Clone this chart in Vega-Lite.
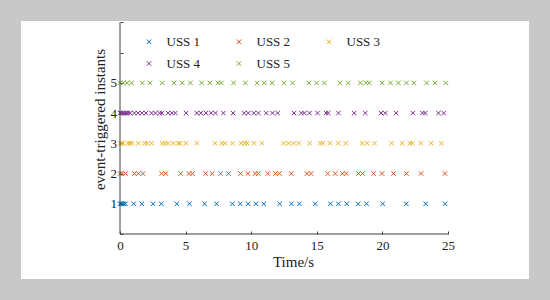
{
  "$schema": "https://vega.github.io/schema/vega-lite/v6.json",
  "width": 508,
  "height": 258,
  "autosize": {"type": "none"},
  "padding": {"left": 21, "top": 21, "right": 21, "bottom": 21},
  "background": "#c8c8c8",
  "config": {
    "view": {"fill": "white", "stroke": null},
    "font": "Liberation Serif",
    "axis": {
      "grid": false,
      "domain": false,
      "labelOverlap": false,
      "tickColor": "#404040",
      "tickWidth": 1,
      "labelFont": "Liberation Serif",
      "labelFontSize": 13,
      "labelColor": "#222222",
      "titleFont": "Liberation Serif",
      "titleFontSize": 15,
      "titleFontWeight": "normal",
      "titleColor": "#222222"
    }
  },
  "datasets": {
    "pts": [
      {"s":"USS 1","y":1,"t":0},{"s":"USS 1","y":1,"t":0.1},{"s":"USS 1","y":1,"t":0.2},{"s":"USS 1","y":1,"t":0.3},{"s":"USS 1","y":1,"t":0.42},
      {"s":"USS 1","y":1,"t":1.04},{"s":"USS 1","y":1,"t":1.66},{"s":"USS 1","y":1,"t":2.52},{"s":"USS 1","y":1,"t":3.15},{"s":"USS 1","y":1,"t":4.33},
      {"s":"USS 1","y":1,"t":5.29},{"s":"USS 1","y":1,"t":6.45},{"s":"USS 1","y":1,"t":7.36},{"s":"USS 1","y":1,"t":8.57},{"s":"USS 1","y":1,"t":9.17},
      {"s":"USS 1","y":1,"t":9.77},{"s":"USS 1","y":1,"t":10.36},{"s":"USS 1","y":1,"t":10.96},{"s":"USS 1","y":1,"t":12.17},{"s":"USS 1","y":1,"t":13.07},
      {"s":"USS 1","y":1,"t":13.67},{"s":"USS 1","y":1,"t":14.88},{"s":"USS 1","y":1,"t":16.04},{"s":"USS 1","y":1,"t":16.65},{"s":"USS 1","y":1,"t":17.28},
      {"s":"USS 1","y":1,"t":18.15},{"s":"USS 1","y":1,"t":18.79},{"s":"USS 1","y":1,"t":20.02},{"s":"USS 1","y":1,"t":21.82},{"s":"USS 1","y":1,"t":23.3},
      {"s":"USS 1","y":1,"t":24.78},

      {"s":"USS 2","y":2,"t":0},{"s":"USS 2","y":2,"t":0.15},{"s":"USS 2","y":2,"t":0.42},{"s":"USS 2","y":2,"t":1.1},{"s":"USS 2","y":2,"t":1.4},
      {"s":"USS 2","y":2,"t":1.75},{"s":"USS 2","y":2,"t":3.17},{"s":"USS 2","y":2,"t":3.49},{"s":"USS 2","y":2,"t":4.63},{"s":"USS 2","y":2,"t":5.26},
      {"s":"USS 2","y":2,"t":5.53},{"s":"USS 2","y":2,"t":6.53},{"s":"USS 2","y":2,"t":7.03},{"s":"USS 2","y":2,"t":7.67},{"s":"USS 2","y":2,"t":8.27},
      {"s":"USS 2","y":2,"t":9.19},{"s":"USS 2","y":2,"t":9.75},{"s":"USS 2","y":2,"t":10.3},{"s":"USS 2","y":2,"t":10.55},{"s":"USS 2","y":2,"t":11.26},
      {"s":"USS 2","y":2,"t":11.85},{"s":"USS 2","y":2,"t":12.15},{"s":"USS 2","y":2,"t":13.05},{"s":"USS 2","y":2,"t":14.25},{"s":"USS 2","y":2,"t":14.57},
      {"s":"USS 2","y":2,"t":15.83},{"s":"USS 2","y":2,"t":16.4},{"s":"USS 2","y":2,"t":16.95},{"s":"USS 2","y":2,"t":17.24},{"s":"USS 2","y":2,"t":18.18},
      {"s":"USS 2","y":2,"t":18.49},{"s":"USS 2","y":2,"t":19.33},{"s":"USS 2","y":2,"t":19.97},{"s":"USS 2","y":2,"t":20.85},{"s":"USS 2","y":2,"t":21.83},
      {"s":"USS 2","y":2,"t":22.95},{"s":"USS 2","y":2,"t":24.77},

      {"s":"USS 3","y":3,"t":0},{"s":"USS 3","y":3,"t":0.12},{"s":"USS 3","y":3,"t":0.25},{"s":"USS 3","y":3,"t":0.6},{"s":"USS 3","y":3,"t":0.75},
      {"s":"USS 3","y":3,"t":0.92},{"s":"USS 3","y":3,"t":1.4},{"s":"USS 3","y":3,"t":1.87},{"s":"USS 3","y":3,"t":2.08},{"s":"USS 3","y":3,"t":2.4},
      {"s":"USS 3","y":3,"t":3.22},{"s":"USS 3","y":3,"t":3.44},{"s":"USS 3","y":3,"t":3.65},{"s":"USS 3","y":3,"t":4.05},{"s":"USS 3","y":3,"t":4.45},
      {"s":"USS 3","y":3,"t":4.57},{"s":"USS 3","y":3,"t":5.02},{"s":"USS 3","y":3,"t":5.85},{"s":"USS 3","y":3,"t":7.24},{"s":"USS 3","y":3,"t":7.76},
      {"s":"USS 3","y":3,"t":8.0},{"s":"USS 3","y":3,"t":8.57},{"s":"USS 3","y":3,"t":9.23},{"s":"USS 3","y":3,"t":9.5},{"s":"USS 3","y":3,"t":9.7},
      {"s":"USS 3","y":3,"t":10.22},{"s":"USS 3","y":3,"t":10.82},{"s":"USS 3","y":3,"t":12.46},{"s":"USS 3","y":3,"t":12.84},{"s":"USS 3","y":3,"t":13.24},
      {"s":"USS 3","y":3,"t":13.62},{"s":"USS 3","y":3,"t":14.45},{"s":"USS 3","y":3,"t":15.26},{"s":"USS 3","y":3,"t":15.46},{"s":"USS 3","y":3,"t":16.0},
      {"s":"USS 3","y":3,"t":16.63},{"s":"USS 3","y":3,"t":17.2},{"s":"USS 3","y":3,"t":18.45},{"s":"USS 3","y":3,"t":18.84},{"s":"USS 3","y":3,"t":19.4},
      {"s":"USS 3","y":3,"t":20.7},{"s":"USS 3","y":3,"t":21.5},{"s":"USS 3","y":3,"t":22.08},{"s":"USS 3","y":3,"t":22.27},{"s":"USS 3","y":3,"t":22.92},
      {"s":"USS 3","y":3,"t":23.72},{"s":"USS 3","y":3,"t":24.5},

      {"s":"USS 4","y":4,"t":0},{"s":"USS 4","y":4,"t":0.1},{"s":"USS 4","y":4,"t":0.2},{"s":"USS 4","y":4,"t":0.32},{"s":"USS 4","y":4,"t":0.45},
      {"s":"USS 4","y":4,"t":0.6},{"s":"USS 4","y":4,"t":0.78},{"s":"USS 4","y":4,"t":1.1},{"s":"USS 4","y":4,"t":1.38},{"s":"USS 4","y":4,"t":1.67},
      {"s":"USS 4","y":4,"t":1.98},{"s":"USS 4","y":4,"t":2.4},{"s":"USS 4","y":4,"t":2.7},{"s":"USS 4","y":4,"t":3.02},{"s":"USS 4","y":4,"t":3.2},
      {"s":"USS 4","y":4,"t":3.67},{"s":"USS 4","y":4,"t":3.95},{"s":"USS 4","y":4,"t":4.22},{"s":"USS 4","y":4,"t":5.04},{"s":"USS 4","y":4,"t":5.85},
      {"s":"USS 4","y":4,"t":6.16},{"s":"USS 4","y":4,"t":6.55},{"s":"USS 4","y":4,"t":6.95},{"s":"USS 4","y":4,"t":7.28},{"s":"USS 4","y":4,"t":7.88},
      {"s":"USS 4","y":4,"t":8.62},{"s":"USS 4","y":4,"t":9.47},{"s":"USS 4","y":4,"t":9.78},{"s":"USS 4","y":4,"t":10.2},{"s":"USS 4","y":4,"t":10.55},
      {"s":"USS 4","y":4,"t":11.15},{"s":"USS 4","y":4,"t":11.62},{"s":"USS 4","y":4,"t":12.02},{"s":"USS 4","y":4,"t":13.27},{"s":"USS 4","y":4,"t":13.82},
      {"s":"USS 4","y":4,"t":14.05},{"s":"USS 4","y":4,"t":14.45},{"s":"USS 4","y":4,"t":15.05},{"s":"USS 4","y":4,"t":15.7},{"s":"USS 4","y":4,"t":15.88},
      {"s":"USS 4","y":4,"t":16.65},{"s":"USS 4","y":4,"t":17.85},{"s":"USS 4","y":4,"t":18.7},{"s":"USS 4","y":4,"t":19.9},{"s":"USS 4","y":4,"t":20.22},
      {"s":"USS 4","y":4,"t":21.05},{"s":"USS 4","y":4,"t":22.32},{"s":"USS 4","y":4,"t":23.05},{"s":"USS 4","y":4,"t":23.27},{"s":"USS 4","y":4,"t":24.27},
      {"s":"USS 4","y":4,"t":24.67},

      {"s":"USS 5","y":5,"t":0},{"s":"USS 5","y":5,"t":0.25},{"s":"USS 5","y":5,"t":0.55},{"s":"USS 5","y":5,"t":0.88},{"s":"USS 5","y":5,"t":1.7},
      {"s":"USS 5","y":5,"t":2.28},{"s":"USS 5","y":5,"t":3.22},{"s":"USS 5","y":5,"t":4.12},{"s":"USS 5","y":5,"t":4.74},{"s":"USS 5","y":5,"t":5.37},
      {"s":"USS 5","y":5,"t":6.22},{"s":"USS 5","y":5,"t":6.85},{"s":"USS 5","y":5,"t":7.47},{"s":"USS 5","y":5,"t":7.73},{"s":"USS 5","y":5,"t":8.65},
      {"s":"USS 5","y":5,"t":9.56},{"s":"USS 5","y":5,"t":10.45},{"s":"USS 5","y":5,"t":11.0},{"s":"USS 5","y":5,"t":11.6},{"s":"USS 5","y":5,"t":12.5},
      {"s":"USS 5","y":5,"t":13.15},{"s":"USS 5","y":5,"t":14.4},{"s":"USS 5","y":5,"t":14.98},{"s":"USS 5","y":5,"t":15.58},{"s":"USS 5","y":5,"t":16.76},
      {"s":"USS 5","y":5,"t":17.4},{"s":"USS 5","y":5,"t":18.33},{"s":"USS 5","y":5,"t":18.73},{"s":"USS 5","y":5,"t":19.0},{"s":"USS 5","y":5,"t":19.98},
      {"s":"USS 5","y":5,"t":20.62},{"s":"USS 5","y":5,"t":21.22},{"s":"USS 5","y":5,"t":21.83},{"s":"USS 5","y":5,"t":22.4},{"s":"USS 5","y":5,"t":23.37},
      {"s":"USS 5","y":5,"t":24.01},{"s":"USS 5","y":5,"t":24.83}
    ],
    "one": [{}]
  },
  "layer": [
    {
      "data": {"name": "pts"},
      "mark": {"type": "point", "shape": "M-1,-1L1,1M-1,1L1,-1", "filled": false, "size": 20, "strokeWidth": 1, "opacity": 1},
      "encoding": {
        "x": {
          "field": "t", "type": "quantitative",
          "scale": {"domain": [-7.546, 31.174], "nice": false, "zero": false},
          "axis": {"orient": "bottom", "offset": -45, "values": [0, 5, 10, 15, 20, 25], "labelOverlap": false, "tickSize": -3, "labelPadding": 8, "title": "Time/s", "titleX": 272, "titlePadding": 2}
        },
        "y": {
          "field": "y", "type": "quantitative",
          "scale": {"domain": [-1.489, 7.046], "nice": false, "zero": false},
          "axis": {"orient": "left", "offset": -99, "values": [0, 1, 2, 3, 4, 5, 6, 7], "labelOverlap": false, "labelExpr": "(datum.value >= 1 && datum.value <= 5) ? format(datum.value, 'd') : ''", "tickSize": -3, "labelPadding": 6.5, "title": "event-triggered instants", "titleY": 98, "titlePadding": 3}
        },
        "color": {
          "field": "s", "type": "nominal",
          "scale": {"domain": ["USS 1", "USS 2", "USS 3", "USS 4", "USS 5"], "range": ["#0072BD", "#D95319", "#EDB120", "#7E2F8E", "#77AC30"]},
          "legend": {"orient": "none", "direction": "horizontal", "legendX": 121.5, "legendY": 14, "columns": 3, "columnPadding": 32, "rowPadding": 8, "title": null, "padding": 0,
            "symbolType": "M-1,-1L1,1M-1,1L1,-1", "symbolSize": 20, "symbolStrokeWidth": 1,
            "labelFont": "Liberation Serif", "labelFontSize": 13, "labelOffset": 11, "labelColor": "#222222"}
        }
      }
    },
    {
      "data": {"name": "one"},
      "mark": {"type": "rule", "color": "#404040", "strokeWidth": 1},
      "encoding": {
        "x": {"datum": 0, "type": "quantitative", "axis": {"orient": "bottom", "offset": -45, "values": [0, 5, 10, 15, 20, 25], "labelOverlap": false, "tickSize": -3, "labelPadding": 8, "title": "Time/s", "titleX": 272, "titlePadding": 2}},
        "x2": {"datum": 25},
        "y": {"datum": 0, "type": "quantitative", "axis": {"orient": "left", "offset": -99, "values": [0, 1, 2, 3, 4, 5, 6, 7], "labelOverlap": false, "labelExpr": "(datum.value >= 1 && datum.value <= 5) ? format(datum.value, 'd') : ''", "tickSize": -3, "labelPadding": 6.5, "title": "event-triggered instants", "titleY": 98, "titlePadding": 3}}
      }
    },
    {
      "data": {"name": "one"},
      "mark": {"type": "rule", "color": "#404040", "strokeWidth": 1},
      "encoding": {
        "x": {"datum": 0, "type": "quantitative", "axis": {"orient": "bottom", "offset": -45, "values": [0, 5, 10, 15, 20, 25], "labelOverlap": false, "tickSize": -3, "labelPadding": 8, "title": "Time/s", "titleX": 272, "titlePadding": 2}},
        "y": {"datum": 0, "type": "quantitative", "axis": {"orient": "left", "offset": -99, "values": [0, 1, 2, 3, 4, 5, 6, 7], "labelOverlap": false, "labelExpr": "(datum.value >= 1 && datum.value <= 5) ? format(datum.value, 'd') : ''", "tickSize": -3, "labelPadding": 6.5, "title": "event-triggered instants", "titleY": 98, "titlePadding": 3}},
        "y2": {"datum": 7}
      }
    }
  ]
}
